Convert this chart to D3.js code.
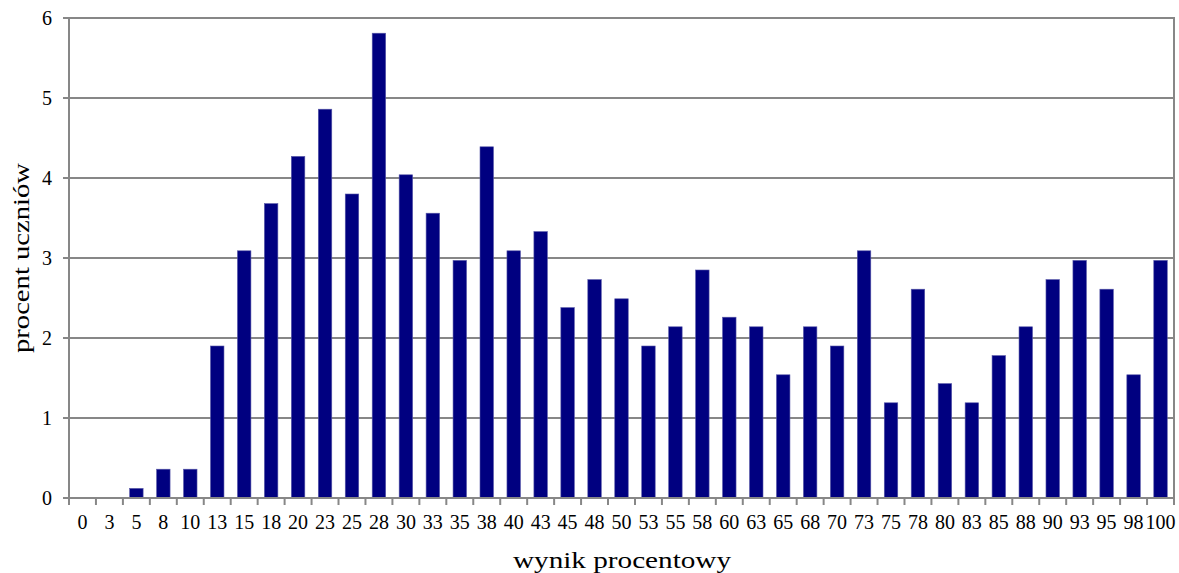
<!DOCTYPE html>
<html>
<head>
<meta charset="utf-8">
<script src="https://cdn.jsdelivr.net/npm/d3@7"></script>
<style>
  html, body { margin: 0; padding: 0; background: #fff; }
  svg { display: block; font-family: "Liberation Serif", "Times New Roman", serif; }
</style>
</head>
<body>
<svg id="chart" width="1179" height="573"></svg>
<script>
// Wynik procentowy (score, %) categories
const categories = ["0","3","5","8","10","13","15","18","20","23","25","28","30","33","35","38","40","43","45","48","50","53","55","58","60","63","65","68","70","73","75","78","80","83","85","88","90","93","95","98","100"];
// Procent uczniów (share of students, %)
const values = [0, 0, 0.12, 0.36, 0.36, 1.90, 3.09, 3.68, 4.27, 4.86, 3.80, 5.81, 4.04, 3.56, 2.97, 4.39, 3.09, 3.33, 2.38, 2.73, 2.49, 1.90, 2.14, 2.85, 2.26, 2.14, 1.54, 2.14, 1.90, 3.09, 1.19, 2.61, 1.43, 1.19, 1.78, 2.14, 2.73, 2.97, 2.61, 1.54, 2.97];
const yTicks = [0, 1, 2, 3, 4, 5, 6];
const xTitle = "wynik procentowy";
const yTitle = "procent uczniów";

const svg = d3.select("#chart");
const plotLeft = 69, plotRight = 1174, plotTop = 18, plotBottom = 498;
const grey = "#878787";

const x = d3.scaleBand().domain(categories).range([plotLeft, plotRight])
  .paddingInner(0.5).paddingOuter(0.25);
const y = d3.scaleLinear().domain([0, 6]).range([plotBottom, plotTop]);

// horizontal gridlines
svg.append("g").selectAll("line").data(yTicks).join("line")
  .attr("x1", plotLeft).attr("x2", plotRight)
  .attr("y1", d => y(d)).attr("y2", d => y(d))
  .attr("stroke", grey).attr("stroke-width", 2);

// bars
svg.append("g").selectAll("rect").data(values).join("rect")
  .attr("x", (d, i) => x(categories[i]))
  .attr("width", x.bandwidth())
  .attr("y", d => y(d))
  .attr("height", d => y(0) - y(d))
  .attr("fill", "#000080")
  .attr("stroke", "#5858a8").attr("stroke-width", 0.6);

// frame: left axis line, right border, baseline
svg.append("line").attr("x1", plotLeft).attr("x2", plotLeft).attr("y1", plotTop - 1).attr("y2", plotBottom)
  .attr("stroke", grey).attr("stroke-width", 2);
svg.append("line").attr("x1", plotRight).attr("x2", plotRight).attr("y1", plotTop - 1).attr("y2", plotBottom + 1)
  .attr("stroke", grey).attr("stroke-width", 2);
svg.append("line").attr("x1", plotLeft).attr("x2", plotRight).attr("y1", plotBottom).attr("y2", plotBottom)
  .attr("stroke", grey).attr("stroke-width", 2);

// x tick marks at category boundaries
const step = x.step();
const bounds = d3.range(categories.length + 1).map(k => plotLeft + k * step);
svg.append("g").selectAll("line").data(bounds).join("line")
  .attr("x1", d => d).attr("x2", d => d)
  .attr("y1", plotBottom).attr("y2", plotBottom + 7)
  .attr("stroke", grey).attr("stroke-width", 2);

// y tick marks
svg.append("g").selectAll("line").data(yTicks).join("line")
  .attr("x1", plotLeft - 6).attr("x2", plotLeft)
  .attr("y1", d => y(d)).attr("y2", d => y(d))
  .attr("stroke", grey).attr("stroke-width", 2);

// x tick labels
svg.append("g").selectAll("text").data(categories).join("text")
  .attr("x", d => x(d) + x.bandwidth() / 2)
  .attr("y", 529)
  .attr("text-anchor", "middle")
  .attr("font-size", 20)
  .attr("fill", "#000")
  .text(d => d);

// y tick labels
svg.append("g").selectAll("text").data(yTicks).join("text")
  .attr("x", 52)
  .attr("y", d => y(d) + 7)
  .attr("text-anchor", "end")
  .attr("font-size", 20)
  .attr("fill", "#000")
  .text(d => d);

// axis titles
svg.append("text")
  .attr("x", 622).attr("y", 568)
  .attr("text-anchor", "middle")
  .attr("font-size", 24)
  .attr("textLength", 218).attr("lengthAdjust", "spacingAndGlyphs")
  .text(xTitle);

svg.append("text")
  .attr("transform", "translate(29,258) rotate(-90)")
  .attr("text-anchor", "middle")
  .attr("font-size", 24)
  .attr("textLength", 190).attr("lengthAdjust", "spacingAndGlyphs")
  .text(yTitle);
</script>
</body>
</html>
